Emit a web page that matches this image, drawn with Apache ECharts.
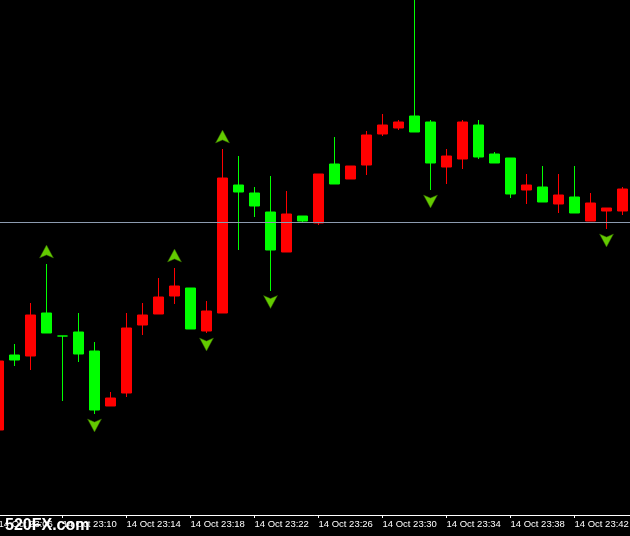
<!DOCTYPE html>
<html>
<head>
<meta charset="utf-8">
<script src="https://cdn.jsdelivr.net/npm/echarts@6/dist/echarts.min.js"></script>
<style>
html,body{margin:0;padding:0;background:#000;}
#chart{width:630px;height:536px;}
</style>
</head>
<body>
<div id="chart"></div>
<script>
// one-minute candles, 14 Oct 23:06 .. 23:45 (price in chart units, no price scale shown)
const times = ['23:06','23:07','23:08','23:09','23:10','23:11','23:12','23:13','23:14','23:15',
               '23:16','23:17','23:18','23:19','23:20','23:21','23:22','23:23','23:24','23:25',
               '23:26','23:27','23:28','23:29','23:30','23:31','23:32','23:33','23:34','23:35',
               '23:36','23:37','23:38','23:39','23:40','23:41','23:42','23:43','23:44','23:45'];
const opens  = [85,160,159,202,179,183,164,109,122,190,201,219,227,184,202,330,322,303,263,299,
                292,351,336,350,381,387,399,393,348,356,390,361,357,325,328,311,318,294,304,304];
const closes = [154,155,200,182,179,161,105,117,187,200,218,229,186,204,337,323,309,265,301,294,
                341,331,349,380,390,393,383,352,359,393,358,352,321,330,313,320,302,312,307,326];
const lows   = [85,149,145,182,114,153,101,109,118,180,201,211,186,182,202,265,298,224,263,292,
                290,331,336,340,379,385,383,325,331,346,356,352,317,311,313,302,302,294,286,300];
const highs  = [154,171,212,251,179,202,173,123,202,212,237,247,227,214,366,359,328,339,324,299,
                341,378,349,384,401,395,540,395,366,395,395,363,357,341,349,341,349,322,307,328];
// signal arrows: candle index and level
const upArrowIdx   = [3, 11, 14];
const upArrowVal   = [263.5, 259.5, 378.5];
const downArrowIdx = [6, 13, 17, 27, 38];
const downArrowVal = [89.5, 170.5, 213, 313.5, 274.5];
const hLineLevel = 293;
const dateLabel = '14 Oct';

const categories = times.map(t => dateLabel + ' ' + t);
const candleData = times.map((t, i) => [opens[i], closes[i], lows[i], highs[i]]);
const upData = upArrowIdx.map((k, i) => [categories[k], upArrowVal[i]]);
const downData = downArrowIdx.map((k, i) => [categories[k], downArrowVal[i]]);

const chart = echarts.init(document.getElementById('chart'), null, {renderer: 'canvas'});
chart.setOption({
  backgroundColor: '#000000',
  animation: false,
  grid: {left: -9.5, right: -0.5, top: 0, bottom: 21, containLabel: false, outerBoundsMode: 'none'},
  xAxis: {
    type: 'category',
    data: categories,
    boundaryGap: true,
    axisLine: {lineStyle: {color: '#ffffff', width: 1}},
    axisTick: {show: true, interval: 3, alignWithLabel: true, length: 3, lineStyle: {color: '#ffffff'}},
    axisLabel: {
      interval: 3, align: 'left', margin: 4, hideOverlap: false,
      color: '#ffffff', fontFamily: 'Liberation Sans', fontSize: 9.5
    },
    splitLine: {show: false}
  },
  yAxis: {
    type: 'value', min: 0, max: 515, show: false,
    splitLine: {show: false}
  },
  series: [
    {
      type: 'candlestick',
      data: candleData,
      barWidth: 10,
      clip: true,
      itemStyle: {
        color: '#ff0000', color0: '#00ff00',
        borderColor: '#ff0000', borderColor0: '#00ff00', borderWidth: 1
      },
      markLine: {
        silent: true, symbol: ['none', 'none'],
        label: {show: false},
        lineStyle: {color: '#8c9bb0', width: 1, type: 'solid'},
        data: [{yAxis: hLineLevel}]
      }
    },
    {
      type: 'scatter',
      data: upData,
      symbol: 'path://M7,0 L14,13 L7,10 L0,13 Z',
      symbolSize: [14, 13],
      itemStyle: {color: '#7cfc00', borderColor: '#2f5a00', borderWidth: 0.6}
    },
    {
      type: 'scatter',
      data: downData,
      symbol: 'path://M0,0 L7,3 L14,0 L7,13 Z',
      symbolSize: [14, 13],
      itemStyle: {color: '#7cfc00', borderColor: '#2f5a00', borderWidth: 0.6}
    }
  ],
  graphic: [{
    type: 'text', left: 4, top: 517,
    style: {
      text: '520FX.com', fill: '#ffffff',
      font: 'bold 16px "Liberation Sans"',
      stroke: '#000000', lineWidth: 2
    }
  }]
});
</script>
</body>
</html>
